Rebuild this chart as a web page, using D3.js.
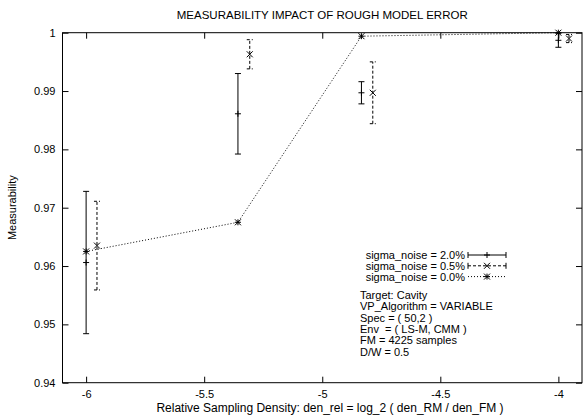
<!DOCTYPE html>
<html>
<head>
<meta charset="utf-8">
<script src="https://cdn.jsdelivr.net/npm/d3@7"></script>
<style>
  body { margin: 0; background: white; }
  text { font-family: "Liberation Sans", Arial, sans-serif; font-size: 11px; fill: black; }
</style>
</head>
<body>
<div id="chart"></div>
<script>
// data
const xTicks = [-6, -5.5, -5, -4.5, -4]
const yTicks = [0.94, 0.95, 0.96, 0.97, 0.98, 0.99, 1]

const x20 = [-6, -5.357, -4.834, -4]
const mean20 = [0.9606, 0.9861, 0.9897, 0.9987]
const err20 = [0.0122, 0.0069, 0.0019, 0.0012]

const x05 = [-5.954, -5.307, -4.786, -3.955]
const mean05 = [0.9635, 0.9963, 0.9897, 0.9990]
const err05 = [0.0076, 0.0025, 0.0053, 0.0007]

const x00 = [-6, -5.357, -4.834, -4]
const mean00 = [0.9625, 0.9675, 0.9994, 1.0]

const legendLabels = ["sigma_noise = 2.0%", "sigma_noise = 0.5%", "sigma_noise = 0.0%"]
const infoLines = ["Target: Cavity", "VP_Algorithm = VARIABLE", "Spec = ( 50,2 )",
    "Env  = ( LS-M, CMM )", "FM = 4225 samples", "D/W = 0.5"]

const width = 584, height = 418
const plotLeft = 62.5, plotRight = 582, plotTop = 32.7, plotBottom = 382.7

const svg = d3.select("#chart").append("svg")
    .attr("width", width)
    .attr("height", height)

const x = d3.scaleLinear().domain([-6.1, -3.9]).range([plotLeft, plotRight])
const y = d3.scaleLinear().domain([0.94, 1]).range([plotBottom, plotTop])

// axes, gnuplot style: ticks inside and mirrored
svg.append("g")
    .attr("transform", "translate(0," + plotBottom + ")")
    .call(d3.axisBottom(x).tickValues(xTicks).tickSize(-6).tickPadding(8).tickFormat(d => String(d)))
svg.append("g")
    .attr("transform", "translate(0," + plotTop + ")")
    .call(d3.axisTop(x).tickValues(xTicks).tickSize(-6).tickFormat(""))
svg.append("g")
    .attr("transform", "translate(" + plotLeft + ",0)")
    .call(d3.axisLeft(y).tickValues(yTicks).tickSize(-6).tickPadding(7).tickFormat(d => String(d)))
svg.append("g")
    .attr("transform", "translate(" + plotRight + ",0)")
    .call(d3.axisRight(y).tickValues(yTicks).tickSize(-6).tickFormat(""))

svg.selectAll(".domain").remove()
svg.selectAll(".tick text").style("font-size", "11px").style("font-family", "Liberation Sans, Arial, sans-serif")
svg.selectAll(".tick line").attr("stroke", "black")

svg.append("rect")
    .attr("x", plotLeft).attr("y", plotTop)
    .attr("width", plotRight - plotLeft).attr("height", plotBottom - plotTop)
    .attr("fill", "none").attr("stroke", "black").attr("stroke-width", 1)

// titles
svg.append("text")
    .attr("x", (plotLeft + plotRight) / 2).attr("y", 19)
    .attr("text-anchor", "middle")
    .style("font-size", "11.5px")
    .text("MEASURABILITY IMPACT OF ROUGH MODEL ERROR")

svg.append("text")
    .attr("x", 330).attr("y", 412)
    .attr("text-anchor", "middle")
    .style("font-size", "12px")
    .text("Relative Sampling Density: den_rel = log_2 ( den_RM / den_FM )")

svg.append("text")
    .attr("transform", "translate(16," + ((plotTop + plotBottom) / 2) + ") rotate(-90)")
    .attr("text-anchor", "middle")
    .text("Measurability")

// marker helpers
function plus(g, cx, cy, s) {
    g.append("path").attr("d", `M${cx - s},${cy}H${cx + s}M${cx},${cy - s}V${cy + s}`)
        .attr("stroke", "black").attr("fill", "none")
}
function cross(g, cx, cy, s) {
    g.append("path").attr("d", `M${cx - s},${cy - s}L${cx + s},${cy + s}M${cx - s},${cy + s}L${cx + s},${cy - s}`)
        .attr("stroke", "black").attr("fill", "none")
}
function star(g, cx, cy, s) {
    plus(g, cx, cy, s)
    cross(g, cx, cy, s)
}

function errorBars(xs, means, errs, dash, marker) {
    const g = svg.append("g")
    xs.forEach(function(d, i) {
        const px = x(d)
        const y0 = y(means[i] - errs[i]), y1 = y(means[i] + errs[i])
        g.append("line")
            .attr("x1", px).attr("x2", px).attr("y1", y0).attr("y2", y1)
            .attr("stroke", "black").attr("stroke-dasharray", dash)
        g.append("line").attr("x1", px - 3).attr("x2", px + 3).attr("y1", y0).attr("y2", y0)
            .attr("stroke", "black").attr("stroke-dasharray", dash)
        g.append("line").attr("x1", px - 3).attr("x2", px + 3).attr("y1", y1).attr("y2", y1)
            .attr("stroke", "black").attr("stroke-dasharray", dash)
        marker(g, px, y(means[i]), 3)
    })
}

errorBars(x20, mean20, err20, null, plus)
errorBars(x05, mean05, err05, "3,2", cross)

// 0.0% noise, dotted line with stars
const line = d3.line().x(d => x(d[0])).y(d => y(d[1]))
svg.append("path")
    .datum(x00.map((d, i) => [d, mean00[i]]))
    .attr("d", line)
    .attr("fill", "none").attr("stroke", "black")
    .attr("stroke-dasharray", "1,2")
const starG = svg.append("g")
x00.forEach((d, i) => star(starG, x(d), y(mean00[i]), 3))

// legend
const legend = svg.append("g")
const legendDash = [null, "3,2", "1,2"]
const legendMarker = [plus, cross, star]
legendLabels.forEach(function(label, i) {
    const cy = 255 + i * 10.8
    legend.append("text")
        .attr("x", 465).attr("y", cy + 4)
        .attr("text-anchor", "end")
        .text(label)
    legend.append("line")
        .attr("x1", 468).attr("x2", 506).attr("y1", cy).attr("y2", cy)
        .attr("stroke", "black").attr("stroke-dasharray", legendDash[i])
    if (i < 2) {
        legend.append("line").attr("x1", 468).attr("x2", 468).attr("y1", cy - 3).attr("y2", cy + 3).attr("stroke", "black")
        legend.append("line").attr("x1", 506).attr("x2", 506).attr("y1", cy - 3).attr("y2", cy + 3).attr("stroke", "black")
    }
    legendMarker[i](legend, 487, cy, 3)
})

const info = svg.append("g")
infoLines.forEach(function(t, i) {
    info.append("text")
        .attr("x", 360).attr("y", 299 + i * 11.3)
        .style("white-space", "pre")
        .text(t)
})
</script>
</body>
</html>
